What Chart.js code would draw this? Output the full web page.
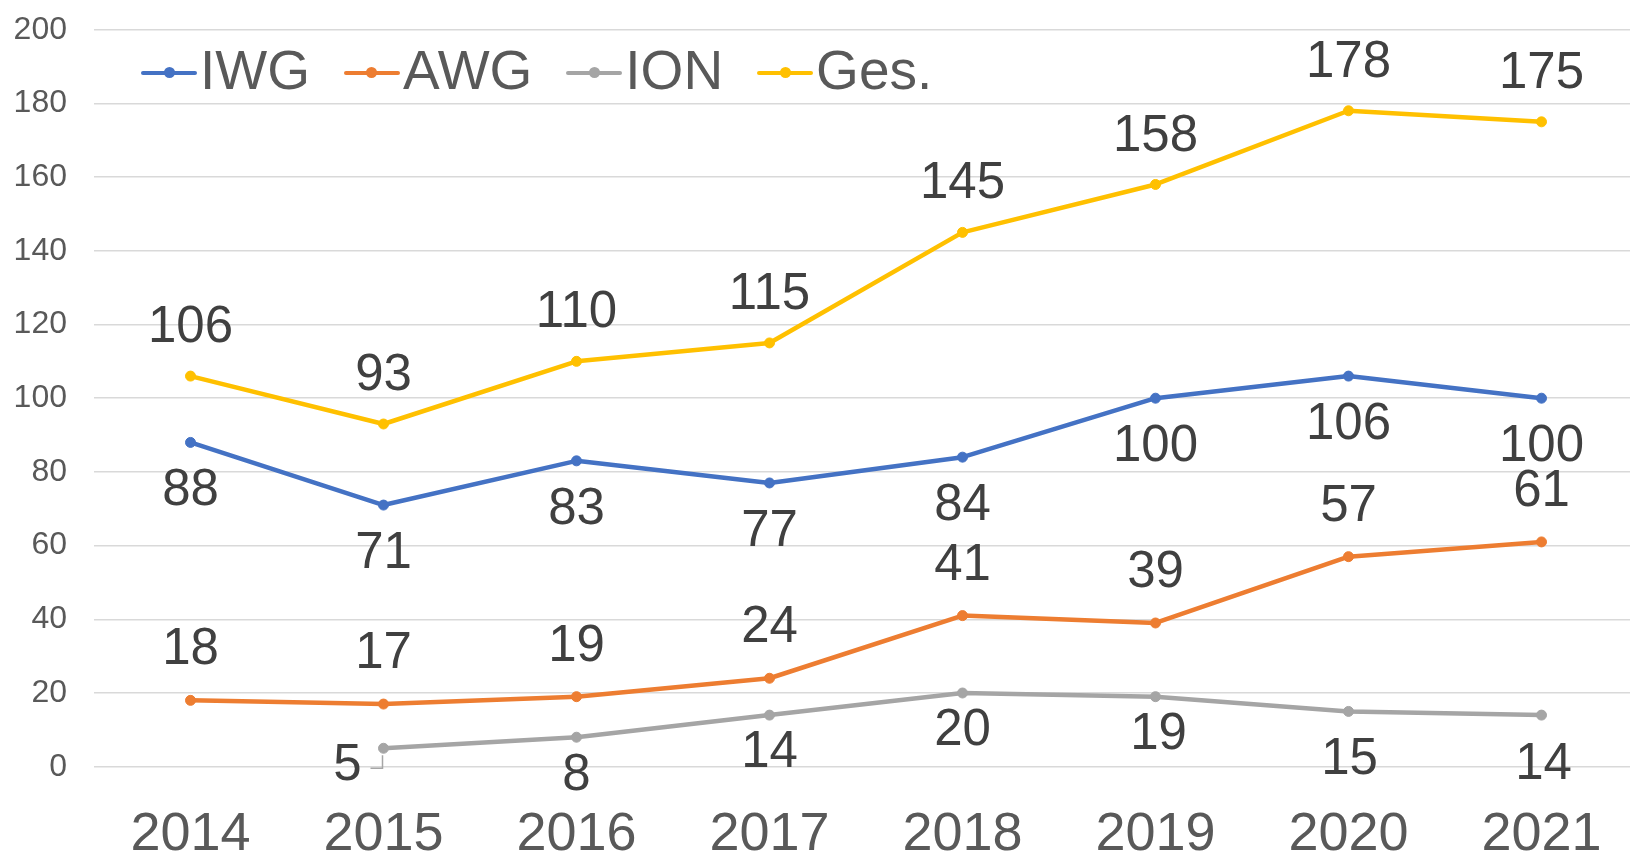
<!DOCTYPE html>
<html>
<head>
<meta charset="utf-8">
<script src="https://cdn.jsdelivr.net/npm/chart.js@4.4.1/dist/chart.umd.min.js"></script>
<style>
  html, body { margin: 0; padding: 0; background: #fff; overflow: hidden; }
  #wrap { position: relative; width: 1630px; height: 851px; overflow: hidden; }
  #chart { position: absolute; left: 0; top: 0; }
  #legend {
    position: absolute; left: 141px; top: 43px; display: flex;
    font-family: "Liberation Sans", Arial, sans-serif; font-size: 55px;
    line-height: 55px; color: #595959;
  }
  .item { display: flex; align-items: center; margin-right: 34px; }
  .mk { position: relative; width: 56px; height: 12px; margin-right: 3px; top: 2px; }
  .mk .ln { position: absolute; left: 0; right: 0; top: 4px; height: 4px; border-radius: 2px; }
  .mk .dt { position: absolute; left: 22.5px; top: 0.5px; width: 11px; height: 11px; border-radius: 50%; }
</style>
</head>
<body>
<div id="wrap">
  <canvas id="chart" width="1644" height="851"></canvas>
  <div id="legend"></div>
</div>
<script>
// values
const years = ['2014', '2015', '2016', '2017', '2018', '2019', '2020', '2021'];
const iwg = [88, 71, 83, 77, 84, 100, 106, 100];
const awg = [18, 17, 19, 24, 41, 39, 57, 61];
const ion = [null, 5, 8, 14, 20, 19, 15, 14];
const ges = [106, 93, 110, 115, 145, 158, 178, 175];
const yTicks = [0, 20, 40, 60, 80, 100, 120, 140, 160, 180, 200];

const seriesNames = ['IWG', 'AWG', 'ION', 'Ges.'];
const seriesColors = ['#4472C4', '#ED7D31', '#A5A5A5', '#FFC000'];

// where each value label sits relative to its point (px)
const labelShift = {
  'IWG': { dy: 49 },
  'AWG': { dy: -50 },
  'ION': { dy: [0, 18, 39, 38, 38, 38, 49, 50], dx: [0, -36, 0, 0, 0, 3, 1, 2] },
  'Ges.': { dy: -48 }
};

const valueLabels = {
  id: 'valueLabels',
  afterDatasetsDraw(chart) {
    const ctx = chart.ctx;
    ctx.save();
    ctx.font = '51px "Liberation Sans", Arial, sans-serif';
    ctx.fillStyle = '#404040';
    ctx.textAlign = 'center';
    ctx.textBaseline = 'middle';
    chart.data.datasets.forEach((ds, i) => {
      const meta = chart.getDatasetMeta(i);
      const shift = labelShift[ds.label];
      meta.data.forEach((pt, j) => {
        const v = ds.data[j];
        if (v == null) return;
        const dy = Array.isArray(shift.dy) ? shift.dy[j] : shift.dy;
        const dx = shift.dx ? shift.dx[j] : 0;
        ctx.fillText(String(v), pt.x + dx, pt.y + dy);
      });
    });
    // small leader line for the moved ION label in 2015
    const p = chart.getDatasetMeta(2).data[1];
    ctx.strokeStyle = '#A6A6A6';
    ctx.lineWidth = 1.5;
    ctx.beginPath();
    ctx.moveTo(p.x - 1, p.y + 7);
    ctx.lineTo(p.x - 1, p.y + 20);
    ctx.lineTo(p.x - 13, p.y + 20);
    ctx.stroke();
    ctx.restore();
  }
};

const lists = [iwg, awg, ion, ges];
const datasets = lists.map((data, i) => ({
  label: seriesNames[i],
  data: data,
  borderColor: seriesColors[i],
  backgroundColor: seriesColors[i],
  pointBackgroundColor: seriesColors[i],
  pointBorderColor: seriesColors[i],
  borderWidth: 4.5,
  borderJoinStyle: 'round',
  borderCapStyle: 'round',
  pointRadius: 5,
  pointBorderWidth: 1,
  order: lists.length - i
}));

new Chart(document.getElementById('chart'), {
  type: 'line',
  data: { labels: years, datasets: datasets },
  options: {
    responsive: false,
    animation: false,
    layout: { padding: { top: 29.7, left: 0, right: 0, bottom: 0 } },
    plugins: {
      legend: { display: false },
      tooltip: { enabled: false }
    },
    scales: {
      x: {
        offset: true,
        grid: { display: false },
        border: { display: false },
        ticks: {
          color: '#595959',
          padding: 28,
          maxRotation: 0,
          autoSkip: false,
          font: { family: '"Liberation Sans", Arial, sans-serif', size: 54 }
        },
        afterFit: (scale) => { scale.height = 84.3; }
      },
      y: {
        min: 0,
        max: 200,
        afterBuildTicks: (scale) => { scale.ticks = yTicks.map(v => ({ value: v })); },
        // invisible tick marks keep the labels away from the plot
        grid: { color: '#D9D9D9', lineWidth: 1.5, drawTicks: true, tickLength: 27, tickColor: 'rgba(0,0,0,0)' },
        border: { display: false },
        ticks: {
          color: '#595959',
          padding: 0,
          font: { family: '"Liberation Sans", Arial, sans-serif', size: 32 }
        },
        afterFit: (scale) => { scale.width = 94; }
      }
    }
  },
  plugins: [valueLabels]
});

// legend laid over the plot, built from the same series names and colours
const legend = document.getElementById('legend');
seriesNames.forEach((name, i) => {
  const item = document.createElement('div');
  item.className = 'item';
  item.innerHTML = '<span class="mk"><span class="ln" style="background:' + seriesColors[i] +
    '"></span><span class="dt" style="background:' + seriesColors[i] + '"></span></span><span>' + name + '</span>';
  legend.appendChild(item);
});
</script>
</body>
</html>
